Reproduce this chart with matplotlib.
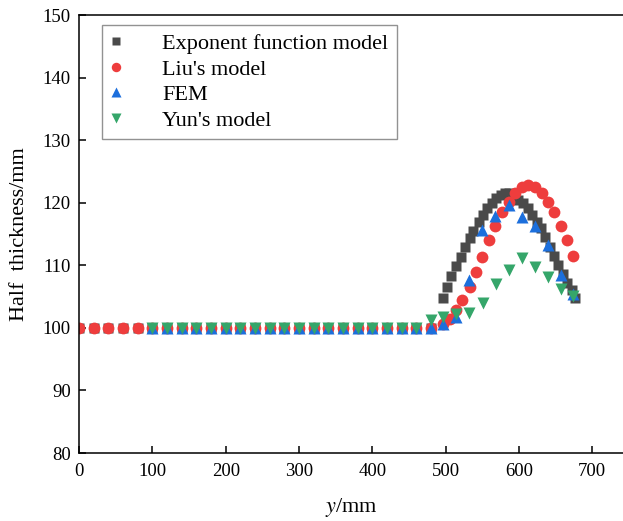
import matplotlib
matplotlib.use("Agg")
import matplotlib.pyplot as plt

plt.rcParams['font.family'] = ['Liberation Serif', 'DejaVu Serif']
plt.rcParams['mathtext.fontset'] = 'stix'

# flat part shared by all models
flat_x = [0, 20, 40, 60, 80, 100, 120, 140, 160, 180, 200, 220, 240, 260, 280,
          300, 320, 340, 360, 380, 400, 420, 440, 460, 480]
flat_tri_x = flat_x[5:]

# Exponent function model
exp_x = flat_x + [496, 502, 508, 514, 521, 527, 533, 538, 545, 551, 557, 563, 569,
                  575, 581, 587, 593, 599, 605, 612, 618, 624, 630, 636, 642, 648,
                  654, 660, 666, 672, 676]
exp_y = [100] * len(flat_x) + [104.8, 106.6, 108.3, 109.9, 111.4, 112.9, 114.3, 115.5,
                               116.9, 118.0, 119.1, 119.9, 120.7, 121.2, 121.5, 121.5,
                               121.0, 120.4, 119.9, 119.1, 118.0, 117.0, 115.9, 114.6,
                               113.0, 111.5, 110.1, 108.6, 107.2, 106.0, 104.7]

# Liu's model
liu_x = flat_x + [497, 506, 514, 523, 533, 542, 550, 559, 568, 577, 586, 595, 604,
                  613, 622, 631, 639, 648, 657, 666, 674]
liu_y = [100] * len(flat_x) + [100.7, 101.4, 102.9, 104.4, 106.6, 109.0, 111.4, 114.1,
                               116.3, 118.5, 120.2, 121.5, 122.5, 122.8, 122.5, 121.6,
                               120.2, 118.5, 116.3, 114.1, 111.5]

# FEM
fem_x = flat_tri_x + [496, 514, 532, 549, 567, 586, 604, 622, 639, 657, 674]
fem_y = [100] * len(flat_tri_x) + [100.6, 101.8, 107.6, 115.7, 117.9, 119.6, 117.8,
                                   116.3, 113.3, 108.4, 105.4]

# Yun's model
yun_x = flat_tri_x + [496, 514, 532, 551, 569, 586, 604, 622, 639, 657, 674]
yun_y = [100] * (len(flat_tri_x) - 1) + [101.3, 101.8, 102.2, 102.4, 104.0, 107.0,
                                         109.2, 111.1, 109.8, 108.1, 106.2, 105.1]

fig = plt.figure(figsize=(6.23, 5.21), dpi=100)
ax = fig.add_axes([0.127, 0.1305, 0.873, 0.8405])

ax.plot(exp_x, exp_y, 's', color='#4a4a4a', ms=7, mec='none', label='Exponent function model')
ax.plot(liu_x, liu_y, 'o', color='#ee3d3d', ms=8.5, mec='none', label="Liu's model")
ax.plot(fem_x, fem_y, '^', color='#1c6fdc', ms=9, mec='none', label='FEM')
ax.plot(yun_x, yun_y, 'v', color='#35a66a', ms=9, mec='none', label="Yun's model")

ax.set_xlim(0, 742)
ax.set_ylim(80, 150)
ax.set_xticks([0, 100, 200, 300, 400, 500, 600, 700])
ax.set_yticks([80, 90, 100, 110, 120, 130, 140, 150])
ax.spines['right'].set_visible(False)
for s in ['left', 'bottom', 'top']:
    ax.spines[s].set_linewidth(1.1)
ax.tick_params(direction='in', length=5, width=1.1, labelsize=13.5, top=False, right=False)
ax.tick_params(axis='x', pad=7)
ax.tick_params(axis='y', pad=6)

ax.set_xlabel('$y$/mm', fontsize=16, labelpad=12)
ax.set_ylabel('Half  thickness/mm', fontsize=16, labelpad=10)

leg = ax.legend(loc='upper left', bbox_to_anchor=(0.042, 0.978), borderaxespad=0,
                fontsize=16, numpoints=1, fancybox=False, edgecolor='#777777',
                markerscale=0.8, handletextpad=1.8, borderpad=0.4, labelspacing=0.22,
                handlelength=0.5)
leg.get_frame().set_linewidth(1.0)

fig.savefig('out.png', dpi=100)
